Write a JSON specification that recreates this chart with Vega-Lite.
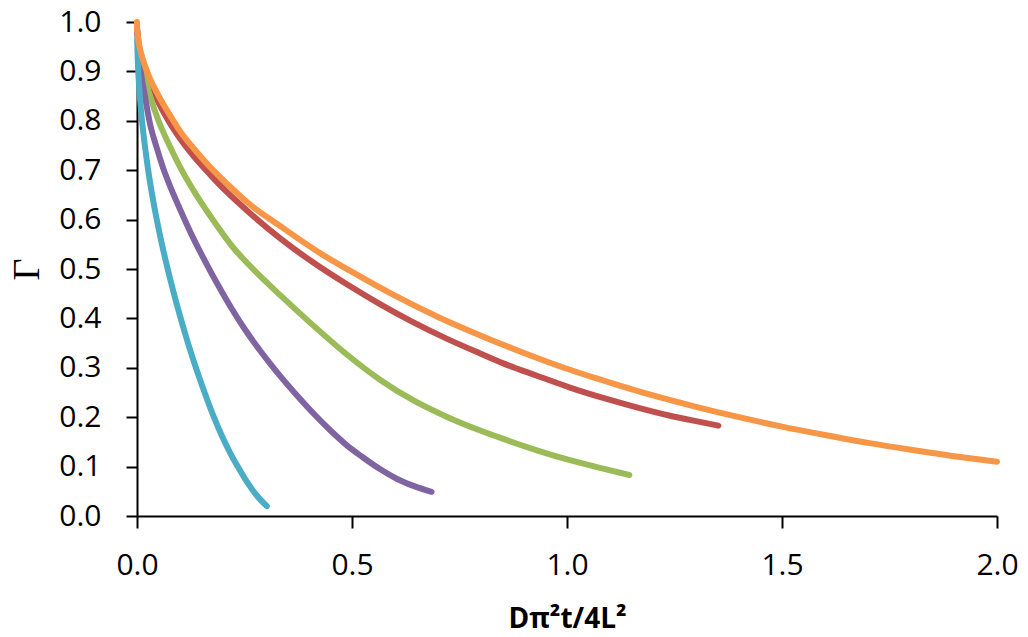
{
  "$schema": "https://vega.github.io/schema/vega-lite/v6.json",
  "width": 860,
  "height": 494,
  "autosize": {"type": "none"},
  "padding": {"left": 137, "top": 22, "right": 31, "bottom": 121},
  "background": "white",
  "config": {"view": {"stroke": null}},
  "data": {"values": [
    {"series": "a_red", "x": 0.0005, "y": 0.985},
    {"series": "a_red", "x": 0.004, "y": 0.955},
    {"series": "a_red", "x": 0.01, "y": 0.93},
    {"series": "a_red", "x": 0.022, "y": 0.895},
    {"series": "a_red", "x": 0.045, "y": 0.846},
    {"series": "a_red", "x": 0.073, "y": 0.80},
    {"series": "a_red", "x": 0.10, "y": 0.764},
    {"series": "a_red", "x": 0.13, "y": 0.730},
    {"series": "a_red", "x": 0.17, "y": 0.691},
    {"series": "a_red", "x": 0.21, "y": 0.655},
    {"series": "a_red", "x": 0.255, "y": 0.619},
    {"series": "a_red", "x": 0.333, "y": 0.562},
    {"series": "a_red", "x": 0.41, "y": 0.513},
    {"series": "a_red", "x": 0.488, "y": 0.469},
    {"series": "a_red", "x": 0.565, "y": 0.429},
    {"series": "a_red", "x": 0.643, "y": 0.392},
    {"series": "a_red", "x": 0.72, "y": 0.359},
    {"series": "a_red", "x": 0.798, "y": 0.329},
    {"series": "a_red", "x": 0.852, "y": 0.309},
    {"series": "a_red", "x": 0.93, "y": 0.284},
    {"series": "a_red", "x": 1.007, "y": 0.260},
    {"series": "a_red", "x": 1.084, "y": 0.239},
    {"series": "a_red", "x": 1.162, "y": 0.220},
    {"series": "a_red", "x": 1.24, "y": 0.203},
    {"series": "a_red", "x": 1.3, "y": 0.192},
    {"series": "a_red", "x": 1.352, "y": 0.183},

    {"series": "b_green", "x": 0.0005, "y": 0.982},
    {"series": "b_green", "x": 0.005, "y": 0.945},
    {"series": "b_green", "x": 0.015, "y": 0.90},
    {"series": "b_green", "x": 0.03, "y": 0.851},
    {"series": "b_green", "x": 0.05, "y": 0.80},
    {"series": "b_green", "x": 0.075, "y": 0.751},
    {"series": "b_green", "x": 0.104, "y": 0.70},
    {"series": "b_green", "x": 0.14, "y": 0.647},
    {"series": "b_green", "x": 0.177, "y": 0.599},
    {"series": "b_green", "x": 0.224, "y": 0.543},
    {"series": "b_green", "x": 0.263, "y": 0.506},
    {"series": "b_green", "x": 0.333, "y": 0.447},
    {"series": "b_green", "x": 0.398, "y": 0.395},
    {"series": "b_green", "x": 0.488, "y": 0.327},
    {"series": "b_green", "x": 0.565, "y": 0.276},
    {"series": "b_green", "x": 0.643, "y": 0.234},
    {"series": "b_green", "x": 0.72, "y": 0.201},
    {"series": "b_green", "x": 0.798, "y": 0.173},
    {"series": "b_green", "x": 0.852, "y": 0.156},
    {"series": "b_green", "x": 0.93, "y": 0.133},
    {"series": "b_green", "x": 1.007, "y": 0.113},
    {"series": "b_green", "x": 1.084, "y": 0.096},
    {"series": "b_green", "x": 1.145, "y": 0.083},

    {"series": "c_purple", "x": 0.0005, "y": 0.977},
    {"series": "c_purple", "x": 0.003, "y": 0.945},
    {"series": "c_purple", "x": 0.009, "y": 0.898},
    {"series": "c_purple", "x": 0.018, "y": 0.852},
    {"series": "c_purple", "x": 0.03, "y": 0.795},
    {"series": "c_purple", "x": 0.045, "y": 0.748},
    {"series": "c_purple", "x": 0.061, "y": 0.704},
    {"series": "c_purple", "x": 0.08, "y": 0.661},
    {"series": "c_purple", "x": 0.10, "y": 0.621},
    {"series": "c_purple", "x": 0.13, "y": 0.564},
    {"series": "c_purple", "x": 0.16, "y": 0.513},
    {"series": "c_purple", "x": 0.19, "y": 0.465},
    {"series": "c_purple", "x": 0.22, "y": 0.420},
    {"series": "c_purple", "x": 0.25, "y": 0.379},
    {"series": "c_purple", "x": 0.28, "y": 0.342},
    {"series": "c_purple", "x": 0.31, "y": 0.308},
    {"series": "c_purple", "x": 0.34, "y": 0.276},
    {"series": "c_purple", "x": 0.37, "y": 0.246},
    {"series": "c_purple", "x": 0.41, "y": 0.208},
    {"series": "c_purple", "x": 0.45, "y": 0.173},
    {"series": "c_purple", "x": 0.488, "y": 0.143},
    {"series": "c_purple", "x": 0.525, "y": 0.119},
    {"series": "c_purple", "x": 0.565, "y": 0.095},
    {"series": "c_purple", "x": 0.605, "y": 0.075},
    {"series": "c_purple", "x": 0.643, "y": 0.061},
    {"series": "c_purple", "x": 0.685, "y": 0.049},

    {"series": "d_cyan", "x": 0.0004, "y": 0.963},
    {"series": "d_cyan", "x": 0.002, "y": 0.917},
    {"series": "d_cyan", "x": 0.006, "y": 0.857},
    {"series": "d_cyan", "x": 0.011, "y": 0.806},
    {"series": "d_cyan", "x": 0.018, "y": 0.752},
    {"series": "d_cyan", "x": 0.026, "y": 0.70},
    {"series": "d_cyan", "x": 0.04, "y": 0.627},
    {"series": "d_cyan", "x": 0.057, "y": 0.554},
    {"series": "d_cyan", "x": 0.0705, "y": 0.503},
    {"series": "d_cyan", "x": 0.085, "y": 0.453},
    {"series": "d_cyan", "x": 0.10, "y": 0.405},
    {"series": "d_cyan", "x": 0.12, "y": 0.346},
    {"series": "d_cyan", "x": 0.139, "y": 0.295},
    {"series": "d_cyan", "x": 0.158, "y": 0.248},
    {"series": "d_cyan", "x": 0.177, "y": 0.204},
    {"series": "d_cyan", "x": 0.196, "y": 0.165},
    {"series": "d_cyan", "x": 0.216, "y": 0.129},
    {"series": "d_cyan", "x": 0.235, "y": 0.099},
    {"series": "d_cyan", "x": 0.255, "y": 0.070},
    {"series": "d_cyan", "x": 0.278, "y": 0.042},
    {"series": "d_cyan", "x": 0.302, "y": 0.020},

    {"series": "e_orange", "x": 0, "y": 1.0},
    {"series": "e_orange", "x": 0.0005, "y": 0.985},
    {"series": "e_orange", "x": 0.002, "y": 0.971},
    {"series": "e_orange", "x": 0.008, "y": 0.942},
    {"series": "e_orange", "x": 0.016, "y": 0.918},
    {"series": "e_orange", "x": 0.026, "y": 0.894},
    {"series": "e_orange", "x": 0.05, "y": 0.851},
    {"series": "e_orange", "x": 0.084, "y": 0.801},
    {"series": "e_orange", "x": 0.10, "y": 0.779},
    {"series": "e_orange", "x": 0.135, "y": 0.741},
    {"series": "e_orange", "x": 0.177, "y": 0.700},
    {"series": "e_orange", "x": 0.215, "y": 0.668},
    {"series": "e_orange", "x": 0.255, "y": 0.636},
    {"series": "e_orange", "x": 0.333, "y": 0.587},
    {"series": "e_orange", "x": 0.426, "y": 0.532},
    {"series": "e_orange", "x": 0.5, "y": 0.494},
    {"series": "e_orange", "x": 0.6, "y": 0.446},
    {"series": "e_orange", "x": 0.7, "y": 0.403},
    {"series": "e_orange", "x": 0.8, "y": 0.365},
    {"series": "e_orange", "x": 0.9, "y": 0.330},
    {"series": "e_orange", "x": 1.0, "y": 0.298},
    {"series": "e_orange", "x": 1.1, "y": 0.270},
    {"series": "e_orange", "x": 1.2, "y": 0.244},
    {"series": "e_orange", "x": 1.3, "y": 0.221},
    {"series": "e_orange", "x": 1.4, "y": 0.200},
    {"series": "e_orange", "x": 1.5, "y": 0.181},
    {"series": "e_orange", "x": 1.6, "y": 0.164},
    {"series": "e_orange", "x": 1.7, "y": 0.148},
    {"series": "e_orange", "x": 1.8, "y": 0.134},
    {"series": "e_orange", "x": 1.9, "y": 0.121},
    {"series": "e_orange", "x": 2.0, "y": 0.110}
  ]},
  "mark": {"type": "line", "strokeWidth": 6, "strokeCap": "round", "strokeJoin": "round", "interpolate": "monotone"},
  "encoding": {
    "x": {
      "field": "x", "type": "quantitative",
      "scale": {"domain": [0, 2], "nice": false, "zero": false},
      "axis": {
        "values": [0, 0.5, 1, 1.5, 2], "format": ".1f", "grid": false,
        "domainColor": "black", "domainWidth": 2, "tickColor": "black", "tickWidth": 2, "tickSize": 12,
        "labelFont": "Open Sans", "labelFontSize": 30, "labelColor": "black", "labelPadding": 22,
        "labelFlush": false, "labelOverlap": false,
        "title": "Dπ²t/4L²", "titleFont": "Open Sans", "titleFontSize": 28, "titleFontWeight": "bold",
        "titleColor": "black", "titleY": 111, "titleBaseline": "alphabetic"
      }
    },
    "y": {
      "field": "y", "type": "quantitative",
      "scale": {"domain": [0, 1], "nice": false, "zero": false},
      "axis": {
        "values": [0, 0.1, 0.2, 0.3, 0.4, 0.5, 0.6, 0.7, 0.8, 0.9, 1.0], "format": ".1f", "grid": false,
        "domainColor": "black", "domainWidth": 2, "tickColor": "black", "tickWidth": 2, "tickSize": 11,
        "labelFont": "Open Sans", "labelFontSize": 30, "labelColor": "black", "labelPadding": 25,
        "labelFlush": false, "labelOverlap": false,
        "title": "Γ", "titleFont": "Liberation Serif", "titleFontSize": 38, "titleFontWeight": "normal",
        "titleColor": "black", "titleAngle": 270, "titleX": -99, "titleY": 247,
        "titleAlign": "center", "titleBaseline": "alphabetic"
      }
    },
    "color": {
      "field": "series", "type": "nominal",
      "scale": {"domain": ["a_red", "b_green", "c_purple", "d_cyan", "e_orange"],
                "range": ["#C0504D", "#9BBB59", "#8064A2", "#4BACC6", "#F79646"]},
      "legend": null
    }
  }
}
